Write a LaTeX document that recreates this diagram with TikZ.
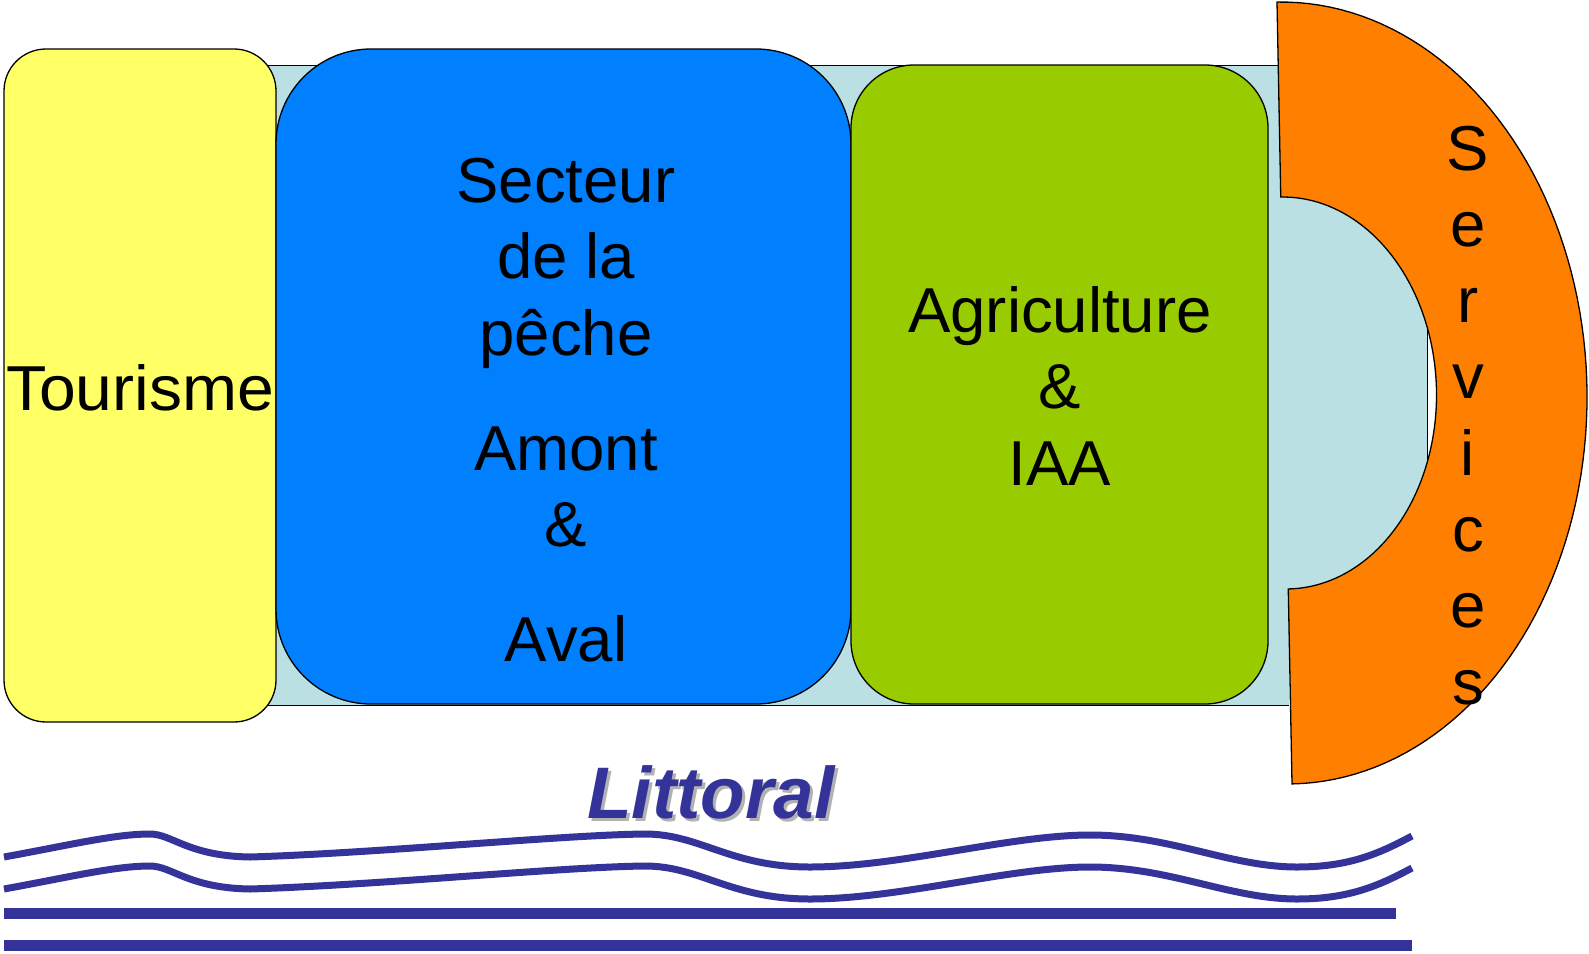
\documentclass[tikz,border=0pt]{standalone}
\usepackage{fontspec}
\setmainfont{Liberation Sans}
\definecolor{bgblue}{HTML}{BBE0E3}
\definecolor{tyellow}{HTML}{FFFF66}
\definecolor{pblue}{HTML}{0080FF}
\definecolor{agreen}{HTML}{99CC00}
\definecolor{sorange}{HTML}{FF8000}
\definecolor{navy}{HTML}{333399}
\definecolor{shadowgray}{HTML}{B2B2B2}
\tikzset{
  boxline/.style={draw=black, line width=1.3pt},
  bgline/.style={draw=black, line width=1pt},
  bigtext/.style={anchor=base, inner sep=0pt, font=\fontsize{63.5}{76}\selectfont},
  wave/.style={draw=navy, line width=7pt},
  bar/.style={draw=navy, line width=11pt},
  littext/.style={anchor=base, inner sep=0pt, font=\fontsize{73}{80}\selectfont\bfseries\itshape}
}
\begin{document}
\begin{tikzpicture}[x=1pt,y=-1pt]
\useasboundingbox (0,0) rectangle (1589,953);
% background strip
\fill[bgblue] (240,65) rectangle (1289,705);
\draw[bgline] (240,65) -- (1289,65);
\draw[bgline] (240,705) -- (1289,705);
\fill[bgblue] (1250,150) rectangle (1427,640);
\draw[bgline] (1427,150) -- (1427,640);
% boxes
\draw[boxline, fill=tyellow, rounded corners=42pt] (4,49) rectangle (276,722);
\draw[boxline, fill=pblue, rounded corners=95pt] (276,49) rectangle (851,704);
\draw[boxline, fill=agreen, rounded corners=63pt] (851,65) rectangle (1268,704);
% services block arc
\begin{scope}[shift={(1284.5,393)}, rotate=1.1]
\draw[boxline, fill=sorange]
  plot[domain=-90:90, samples=90] ({302.5*cos(\x)}, {391*sin(\x)})
  -- (0,196)
  -- plot[domain=90:-90, samples=90] ({152*cos(\x)}, {196*sin(\x)})
  -- cycle;
\end{scope}
% texts
\begin{scope}[shift={(140,410)}, xscale=1.04]
\node[bigtext, transform shape] (tour) at (0,0) {Tourisme};
\end{scope}
\node[bigtext] (p1) at (566,202) {Secteur};
\node[bigtext] (p2) at (566,278) {de la};
\node[bigtext] (p3) at (566,355) {pêche};
\node[bigtext] (p4) at (566,470) {Amont};
\node[bigtext] (p5) at (566,546) {\&};
\node[bigtext] (p6) at (566,661) {Aval};
\node[bigtext] (a1) at (1060,332) {Agriculture};
\node[bigtext] (a2) at (1060,408) {\&};
\node[bigtext] (a3) at (1060,485) {IAA};
\foreach \c [count=\i from 0] in {S,e,r,v,i,c,e,s}
  \node[bigtext] (s\i) at (1468,{170+76.3*\i}) {\c};
% Littoral
\node[littext, text=shadowgray] (litshadow) at (714,821) {Littoral};
\node[littext, text=navy] (lit) at (711,818) {Littoral};
% waves
\foreach \dy in {0,32} {
\draw[wave] (4,857+\dy)
  .. controls (70,845+\dy) and (115,834+\dy) .. (150,834+\dy)
  .. controls (172,834+\dy) and (188,856+\dy) .. (250,857+\dy)
  .. controls (380,853+\dy) and (560,835+\dy) .. (645,834+\dy)
  .. controls (700,834+\dy) and (730,867+\dy) .. (810,867+\dy)
  .. controls (900,867+\dy) and (1010,835+\dy) .. (1090,835+\dy)
  .. controls (1170,835+\dy) and (1230,867+\dy) .. (1297,867+\dy)
  .. controls (1350,867+\dy) and (1380,853+\dy) .. (1412,836+\dy);
}
\draw[bar] (4,913) -- (1396,913);
\draw[bar] (4,945) -- (1412,945);
\end{tikzpicture}
\end{document}
